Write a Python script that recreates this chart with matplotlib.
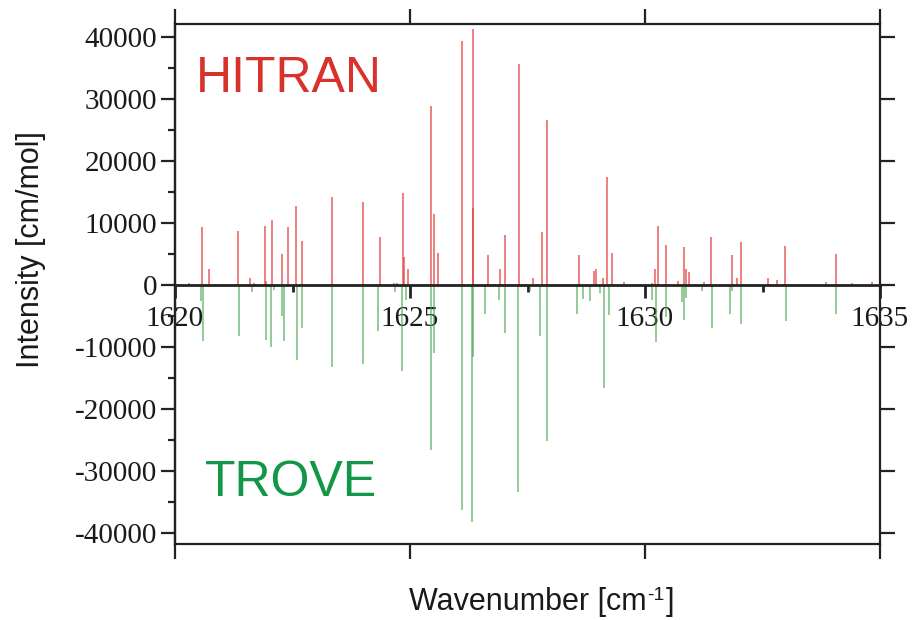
import matplotlib
matplotlib.use("Agg")
import matplotlib.pyplot as plt
from matplotlib.ticker import MultipleLocator, FixedLocator, FuncFormatter

# ---- data ----
hitran_wn = [1620.30, 1620.58, 1620.73, 1621.34, 1621.60, 1621.69, 1621.91, 1621.94,
             1622.07, 1622.28, 1622.41, 1622.58, 1622.70, 1623.33, 1624.01, 1624.37,
             1624.65, 1624.73, 1624.85, 1624.88, 1624.95, 1625.45, 1625.51, 1625.59,
             1625.80, 1626.11, 1626.34, 1626.35, 1626.66, 1626.80, 1626.92, 1627.03,
             1627.31, 1627.61, 1627.81, 1627.92, 1628.59, 1628.91, 1628.95, 1629.10,
             1629.19, 1629.30, 1629.56, 1630.15, 1630.21, 1630.28, 1630.44, 1630.71,
             1630.84, 1630.87, 1630.93, 1631.26, 1631.41, 1631.86, 1631.95, 1632.05,
             1632.61, 1632.81, 1632.98, 1633.41, 1633.86, 1634.06, 1634.40, 1634.82]
hitran_int = [300, 9400, 2530, 8700, 1180, 300, 9460, 700,
              10540, 5000, 9350, 12740, 7100, 14140, 13440, 7740,
              300, 300, 14780, 4460, 2530, 28870, 11450, 5100,
              200, 39300, 41240, 12370, 4840, 200, 2530, 8060,
              35650, 1075, 8550, 26610, 4900, 2300, 2580, 1180,
              17370, 5100, 450, 300, 2580, 9570, 6450, 700,
              6070, 2580, 2040, 400, 7690, 4840, 1180, 6880,
              1180, 800, 6290, 100, 400, 5000, 300, 400]

trove_wn = [1620.55, 1620.60, 1621.36, 1621.63, 1621.93, 1622.05, 1622.10, 1622.27,
            1622.31, 1622.59, 1622.71, 1623.34, 1624.01, 1624.32, 1624.69, 1624.84,
            1624.92, 1625.45, 1625.51, 1626.11, 1626.32, 1626.33, 1626.59, 1626.89,
            1627.02, 1627.29, 1627.56, 1627.77, 1627.92, 1628.56, 1628.68, 1628.84,
            1629.05, 1629.13, 1629.23, 1630.15, 1630.24, 1630.44, 1630.78, 1630.83,
            1630.87, 1631.21, 1631.43, 1631.80, 1631.86, 1632.05, 1633.01, 1633.77,
            1634.06, 1634.10, 1634.63]
trove_int = [-2530, -9030, -8170, -1080, -8870, -9950, -800, -5000,
             -9030, -12100, -6880, -13170, -12740, -7420, -1200, -13870,
             -2420, -26610, -10910, -36290, -38330, -11670, -4680, -2420,
             -7800, -33330, -1000, -8170, -25110, -4730, -2260, -2530,
             -1240, -16560, -4840, -2420, -9140, -5110, -2690, -5650,
             -2150, -900, -6990, -4730, -900, -6290, -5750, -400,
             -4680, -300, -300]

x_major = [1620, 1625, 1630, 1635]
x_minor = [1622.5, 1627.5, 1632.5]
y_major = [-40000, -30000, -20000, -10000, 0, 10000, 20000, 30000, 40000]

plt.rcParams['axes.unicode_minus'] = False

W, H = 922, 620
fig = plt.figure(figsize=(W / 100, H / 100), dpi=100)
L, R, T, B = 175, 880, 24, 544
rect = [L / W, 1 - B / H, (R - L) / W, (B - T) / H]

ax = fig.add_axes(rect)
ax.set_xlim(1620, 1635)
ax.set_ylim(-41800, 42100)

ax.vlines(hitran_wn, 0, hitran_int, colors='#e2423e', linewidth=1.3, alpha=0.72, zorder=2)
ax.vlines(trove_wn, 0, trove_int, colors='#3ea345', linewidth=1.3, alpha=0.6, zorder=2)

spc = '#222222'
ax.spines['top'].set_visible(False)
ax.spines['right'].set_visible(False)
ax.spines['bottom'].set_position(('data', 0))
ax.spines['bottom'].set_linewidth(2)
ax.spines['bottom'].set_color(spc)
ax.spines['bottom'].set_zorder(3)
ax.spines['left'].set_linewidth(1.6)
ax.spines['left'].set_color(spc)

ax.xaxis.set_major_locator(FixedLocator(x_major))
ax.xaxis.set_minor_locator(FixedLocator(x_minor))
ax.yaxis.set_major_locator(FixedLocator(y_major))
ax.yaxis.set_minor_locator(MultipleLocator(5000))
ax.yaxis.set_major_formatter(FuncFormatter(lambda v, p: f"{int(round(v))}"))
ax.xaxis.set_major_formatter(FuncFormatter(lambda v, p: f"{int(round(v))}"))

ax.tick_params(axis='x', which='major', direction='out', length=9, width=2,
               color=spc, pad=6, labelsize=21, labelcolor='#1a1a1a')
ax.tick_params(axis='x', which='minor', direction='out', length=5, width=2, color=spc)
ax.tick_params(axis='y', which='major', direction='out', length=10, width=1.6,
               color=spc, pad=3, labelsize=21, labelcolor='#1a1a1a')
ax.tick_params(axis='y', which='minor', direction='out', length=5, width=1.6, color=spc)
for lab in ax.get_xticklabels() + ax.get_yticklabels():
    lab.set_fontfamily('Liberation Serif')

# frame with outer ticks
ax2 = fig.add_axes(rect)
ax2.patch.set_visible(False)
ax2.set_xlim(1620, 1635)
ax2.set_ylim(-41800, 42100)
for s in ax2.spines.values():
    s.set_linewidth(1.6)
    s.set_color(spc)
ax2.xaxis.set_major_locator(FixedLocator(x_major))
ax2.yaxis.set_major_locator(FixedLocator(y_major))
ax2.tick_params(axis='x', which='both', top=True, bottom=True, labelbottom=False,
                direction='out', length=11, width=1.6, color=spc)
ax2.tick_params(axis='y', which='both', left=False, right=True, labelleft=False,
                direction='out', length=11, width=1.6, color=spc)

ax.text(0.029, 0.869, 'HITRAN', transform=ax.transAxes, fontsize=36,
        color='#d8322d', family='Liberation Sans', va='baseline', ha='left')
ax.text(0.042, 0.092, 'TROVE', transform=ax.transAxes, fontsize=36,
        color='#129647', family='Liberation Sans', va='baseline', ha='left')

fig.text(31 / W, 1 - 250 / H, 'Intensity [cm/mol]', rotation=90, fontsize=22,
         family='Liberation Sans', color='#1a1a1a', ha='center', va='center')

# x label built from pieces so the superscript uses a plain hyphen
lab_kw = dict(family='Liberation Sans', color='#1a1a1a', va='baseline')
fig.canvas.draw()
rend = fig.canvas.get_renderer()
base_y = 1 - 610 / H
t1 = fig.text(0, base_y, 'Wavenumber [cm', fontsize=22, ha='left', **lab_kw)
t2 = fig.text(0, base_y + 10 / H, '-1', fontsize=14, ha='left', **lab_kw)
t3 = fig.text(0, base_y, ']', fontsize=22, ha='left', **lab_kw)
w1 = t1.get_window_extent(rend).width
w2 = t2.get_window_extent(rend).width
w3 = t3.get_window_extent(rend).width
total = w1 + w2 + 1 + w3
x0 = 541 - total / 2
t1.set_x(x0 / W)
t2.set_x((x0 + w1 + 1) / W)
t3.set_x((x0 + w1 + w2 + 2) / W)

fig.savefig('out.png', dpi=100)
